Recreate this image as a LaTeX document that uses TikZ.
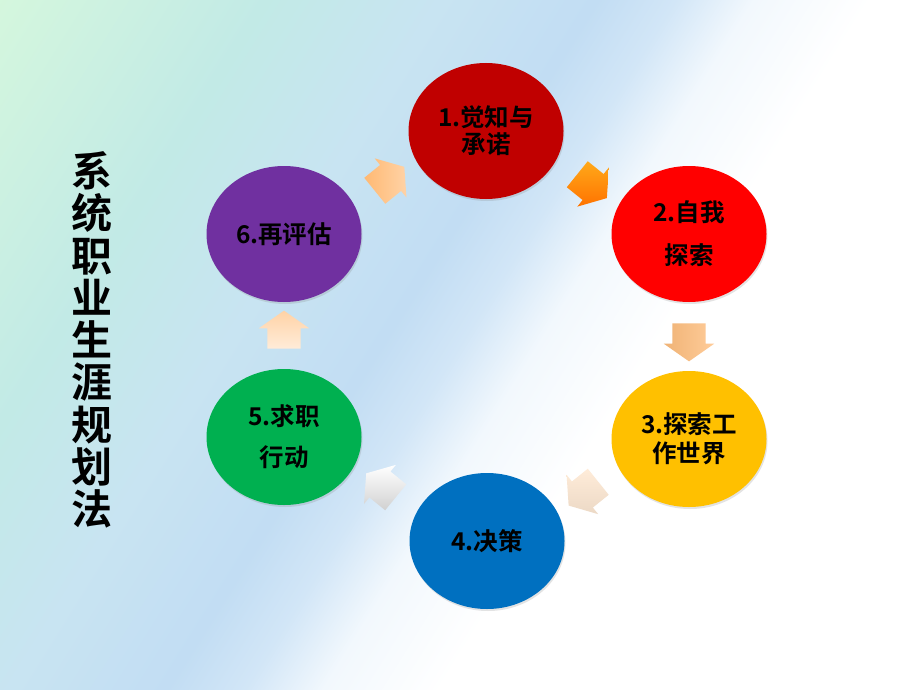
\documentclass[tikz,border=0pt]{standalone}
\usepackage{fontspec}
\newfontfamily\cjk{Noto Sans CJK SC}[BoldFont={Noto Sans CJK SC Bold}]
\usetikzlibrary{shapes.geometric,shapes.arrows,shadows}
\definecolor{bgA}{HTML}{D5F7DD}
\definecolor{bgB}{HTML}{C2EAE6}
\definecolor{bgC}{HTML}{C8E4F2}
\definecolor{bgD}{HTML}{C2DDF3}
\definecolor{bgE}{HTML}{D2E6F7}
\definecolor{bgF}{HTML}{F2F8FD}
\definecolor{cA}{HTML}{C00000}
\definecolor{cB}{HTML}{FF0000}
\definecolor{cC}{HTML}{FFC000}
\definecolor{cD}{HTML}{0070C0}
\definecolor{cE}{HTML}{00B050}
\definecolor{cF}{HTML}{7030A0}
\pgfdeclarehorizontalshading{bgshade}{100bp}{color(0bp)=(bgA); color(15bp)=(bgA); color(29bp)=(bgB); color(38bp)=(bgC); color(46bp)=(bgD); color(50bp)=(bgE); color(54bp)=(bgF); color(60bp)=(white); color(100bp)=(white)}
\begin{document}
\begin{tikzpicture}[x=1pt,y=-1pt,
  stage/.style={ellipse, minimum width=155pt, minimum height=136pt, inner sep=0pt,
    align=center, text=black,
    drop shadow={opacity=0.22, shadow xshift=1pt, shadow yshift=-2pt}},
  lbl/.style={font=\cjk\bfseries\fontsize{24.5}{#1}\selectfont},
  blockarrow/.style={single arrow, minimum height=38pt, inner xsep=0pt, inner ysep=16.5pt,
    single arrow head extend=8.5pt, single arrow tip angle=110,
    draw=none, sloped, allow upside down, midway}]
\useasboundingbox (0,0) rectangle (920,690);
\fill[shading=bgshade, shading angle=-32] (0,0) rectangle (920,690);

\node[font=\cjk\bfseries\fontsize{41}{42.3}\selectfont, align=center, inner sep=0pt] (title) at (92,340)
  {系\\统\\职\\业\\生\\涯\\规\\划\\法};

\node[stage, fill=cA, lbl=27] (s1) at (486,131) {1.觉知与\\承诺};
\node[stage, fill=cB, lbl=43] (s2) at (689,234) {2.自我\\探索};
\node[stage, fill=cC, lbl=29] (s3) at (689,439) {3.探索工\\作世界};
\node[stage, fill=cD, lbl=28] (s4) at (487,541) {4.决策};
\node[stage, fill=cE, lbl=41] (s5) at (284,437) {5.求职\\行动};
\node[stage, fill=cF, lbl=28] (s6) at (284,234) {6.再评估};

\path (s6) -- node[blockarrow, rotate=12, left color=orange!55!white, right color=orange!35!white] (a61) {} (s1);
\path (s1) -- node[blockarrow, rotate=-12, top color=orange!75!yellow!90!white, bottom color=orange!90!red] (a12) {} (s2);
\path (s2) -- node[blockarrow, left color=brown!40!orange!60!white, right color=orange!40!white] (a23) {} (s3);
\path (s3) -- node[blockarrow, rotate=12, top color=orange!15!white, bottom color=brown!30!white] (a34) {} (s4);
\path (s4) -- node[blockarrow, rotate=-12, top color=white, bottom color=black!18] (a45) {} (s5);
\path (s5) -- node[blockarrow, top color=orange!35!white, bottom color=orange!15!white] (a56) {} (s6);
\end{tikzpicture}
\end{document}
